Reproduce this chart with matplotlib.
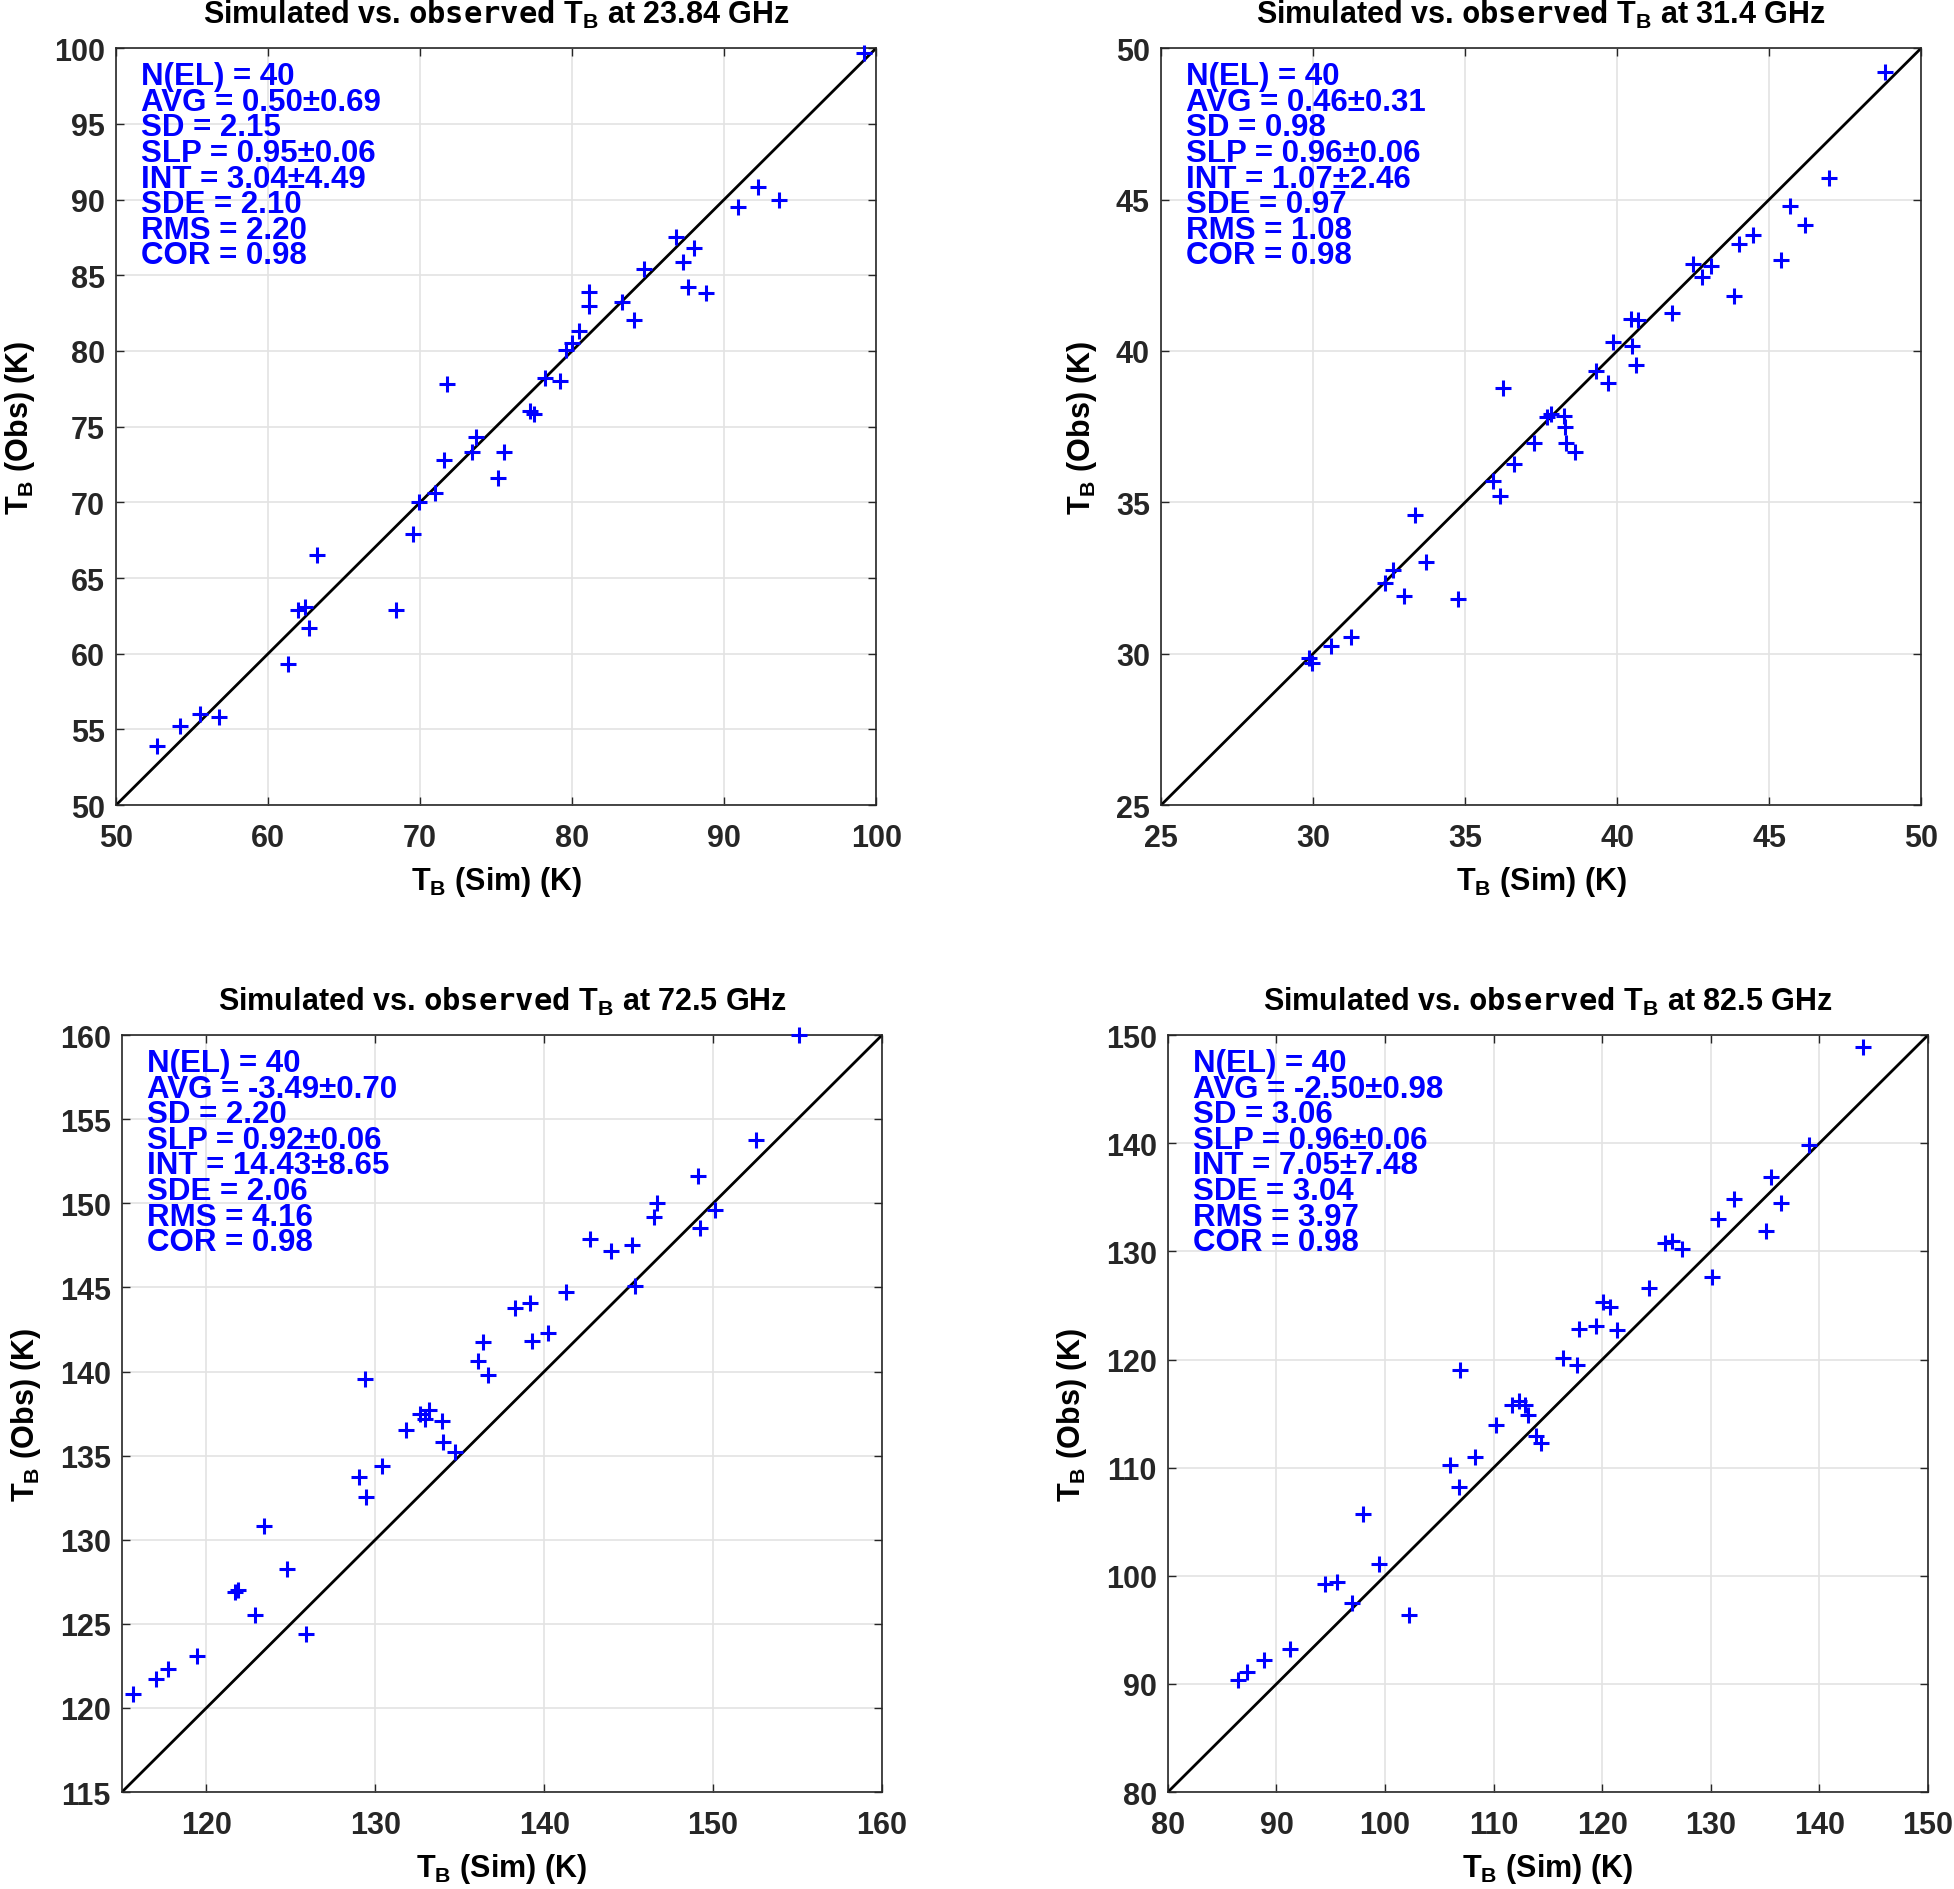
"""Simulated vs. observed brightness temperature scatter plots for four channels."""

import matplotlib

matplotlib.use("Agg")  # no display in the sandbox
import matplotlib.pyplot as plt
import numpy as np

plt.rcParams["font.family"] = ["Liberation Sans", "DejaVu Sans"]
plt.rcParams["font.weight"] = "bold"
plt.rcParams["axes.labelweight"] = "bold"
plt.rcParams["mathtext.fontset"] = "custom"
plt.rcParams["mathtext.rm"] = "Liberation Sans:bold"
plt.rcParams["mathtext.tt"] = "DejaVu Sans Mono:bold"

# ---------------------------------------------------------------------------
# Data (Sim on x, Obs on y)
# ---------------------------------------------------------------------------
sim_2384 = [99.2, 92.25, 93.6, 90.9, 86.8, 88.0, 87.3, 87.6, 88.8, 84.75,
            83.3, 84.1, 81.1, 81.1, 80.45, 79.96, 79.6, 78.2, 79.2, 71.8,
            77.2, 77.5, 73.7, 73.4, 71.6, 75.5, 75.1, 71.0, 69.9, 69.5,
            63.2, 62.0, 62.4, 62.7, 68.4, 61.3, 55.5, 56.8, 54.2, 52.7]
obs_2384 = [99.7, 90.8, 90.0, 89.5, 87.5, 86.8, 85.9, 84.2, 83.8, 85.4,
            83.2, 82.05, 83.9, 83.0, 81.3, 80.5, 80.06, 78.2, 78.0, 77.8,
            76.0, 75.85, 74.3, 73.3, 72.8, 73.3, 71.6, 70.6, 70.0, 67.9,
            66.5, 62.9, 63.1, 61.7, 62.9, 59.3, 56.0, 55.8, 55.2, 53.9]

sim_314 = [48.8, 46.97, 45.67, 46.19, 44.48, 44.02, 45.4, 42.48, 43.1, 42.79,
           43.86, 41.8, 40.46, 40.68, 40.48, 39.86, 40.62, 39.32, 39.7, 36.25,
           37.68, 37.84, 38.25, 38.3, 38.33, 38.6, 37.28, 36.6, 35.92, 36.15,
           33.35, 33.72, 32.63, 32.38, 33.0, 34.75, 31.25, 30.59, 29.85, 29.95]
obs_314 = [49.2, 45.7, 44.8, 44.16, 43.82, 43.53, 43.0, 42.87, 42.8, 42.45,
           41.8, 41.26, 41.06, 41.02, 40.15, 40.3, 39.54, 39.34, 38.94, 38.78,
           37.81, 37.91, 37.85, 37.49, 36.95, 36.66, 36.95, 36.26, 35.72, 35.2,
           34.57, 33.04, 32.76, 32.33, 31.89, 31.81, 30.54, 30.26, 29.85, 29.7]

sim_725 = [155.07, 152.56, 149.1, 149.2, 150.1, 146.7, 146.5, 142.7, 143.96, 145.2,
           145.4, 141.3, 138.25, 139.17, 139.3, 140.2, 136.4, 136.07, 136.66, 129.4,
           132.67, 133.2, 132.97, 133.93, 131.8, 134.0, 134.74, 130.4, 129.06, 129.46,
           123.4, 124.78, 121.7, 121.9, 122.9, 125.9, 119.46, 117.7, 117.0, 115.66]
obs_725 = [160.0, 153.78, 151.6, 148.56, 149.6, 150.0, 149.2, 147.9, 147.14, 147.5,
           145.1, 144.74, 143.77, 144.1, 141.8, 142.3, 141.77, 140.6, 139.8, 139.56,
           137.5, 137.7, 137.2, 137.05, 136.5, 135.8, 135.2, 134.4, 133.7, 132.55,
           130.84, 128.26, 126.9, 127.0, 125.5, 124.4, 123.1, 122.3, 121.7, 120.8]

sim_825 = [144.0, 139.0, 135.55, 136.5, 135.1, 132.1, 130.66, 130.1, 125.77, 126.46,
           127.3, 124.3, 120.1, 120.7, 117.9, 119.4, 121.4, 116.4, 117.7, 106.9,
           111.7, 112.35, 112.9, 113.2, 113.9, 114.4, 110.2, 108.3, 106.0, 106.8,
           97.96, 99.4, 94.5, 95.54, 96.98, 102.2, 91.2, 88.87, 87.3, 86.45]
obs_825 = [148.9, 139.8, 136.9, 134.5, 131.9, 134.8, 133.0, 127.65, 130.77, 131.0,
           130.2, 126.65, 125.3, 124.9, 122.8, 123.1, 122.7, 120.15, 119.5, 119.0,
           115.76, 116.15, 115.8, 114.9, 112.9, 112.3, 113.9, 111.0, 110.2, 108.2,
           105.75, 101.1, 99.2, 99.4, 97.5, 96.4, 93.2, 92.2, 91.1, 90.4]

freqs = ["23.84", "31.4", "72.5", "82.5"]
limits = [(50, 100), (25, 50), (115, 160), (80, 150)]
yticks = [np.arange(50, 101, 5), np.arange(25, 51, 5),
          np.arange(115, 161, 5), np.arange(80, 151, 10)]
xticks = [np.arange(50, 101, 10), np.arange(25, 51, 5),
          np.arange(120, 161, 10), np.arange(80, 151, 10)]

stats_2384 = ["N(EL) = 40", "AVG = 0.50\u00b10.69", "SD = 2.15", "SLP = 0.95\u00b10.06",
              "INT = 3.04\u00b14.49", "SDE = 2.10", "RMS = 2.20", "COR = 0.98"]
stats_314 = ["N(EL) = 40", "AVG = 0.46\u00b10.31", "SD = 0.98", "SLP = 0.96\u00b10.06",
             "INT = 1.07\u00b12.46", "SDE = 0.97", "RMS = 1.08", "COR = 0.98"]
stats_725 = ["N(EL) = 40", "AVG = -3.49\u00b10.70", "SD = 2.20", "SLP = 0.92\u00b10.06",
             "INT = 14.43\u00b18.65", "SDE = 2.06", "RMS = 4.16", "COR = 0.98"]
stats_825 = ["N(EL) = 40", "AVG = -2.50\u00b10.98", "SD = 3.06", "SLP = 0.96\u00b10.06",
             "INT = 7.05\u00b17.48", "SDE = 3.04", "RMS = 3.97", "COR = 0.98"]

sims = [sim_2384, sim_314, sim_725, sim_825]
obss = [obs_2384, obs_314, obs_725, obs_825]
stats = [stats_2384, stats_314, stats_725, stats_825]

# axes rectangles in figure fractions (left, bottom, width, height)
rects = [
    (0.0594, 0.5735, 0.389, 0.4005),
    (0.5942, 0.5735, 0.389, 0.4005),
    (0.0624, 0.0513, 0.389, 0.4005),
    (0.5977, 0.0513, 0.389, 0.4005),
]

fig = plt.figure(figsize=(19.54, 18.9), dpi=100)

for k in range(4):
    ax = fig.add_axes(rects[k])
    lo, hi = limits[k]
    ax.set_axisbelow(True)
    ax.grid(True, color="#e3e3e3", linewidth=1.2)
    ax.plot([lo, hi], [lo, hi], color="black", linewidth=2.0, zorder=2)
    ax.plot(sims[k], obss[k], linestyle="none", marker="+", color="#0000ff",
            markersize=12, markeredgewidth=2.2, zorder=3, clip_on=False)
    ax.set_xlim(lo, hi)
    ax.set_ylim(lo, hi)
    ax.set_xticks(xticks[k])
    ax.set_yticks(yticks[k])
    ax.tick_params(direction="in", length=6, width=1, top=True, right=True,
                   labelsize=22, colors="#262626")
    ax.tick_params(axis="x", pad=13)
    ax.tick_params(axis="y", pad=8)
    for sp in ax.spines.values():
        sp.set_linewidth(1.2)
        sp.set_color("#262626")

    ax.set_title(r"Simulated vs. $\mathtt{observed}$ T$_\mathrm{B}$ at "
                 + freqs[k] + " GHz", fontsize=22, fontweight="bold", pad=18)
    ax.set_xlabel(r"T$_\mathrm{B}$ (Sim) (K)", fontsize=22, fontweight="bold", labelpad=8)
    ax.set_ylabel(r"T$_\mathrm{B}$ (Obs) (K)", fontsize=22, fontweight="bold", labelpad=12)

    # statistics block, lines packed tightly as in the MATLAB original
    ax.text(0.033, 0.983, "\n".join(stats[k]), transform=ax.transAxes,
            fontsize=22.5, fontweight="bold", color="#0000ff",
            ha="left", va="top", linespacing=0.81, zorder=4)

fig.savefig("out.png", dpi=100)
